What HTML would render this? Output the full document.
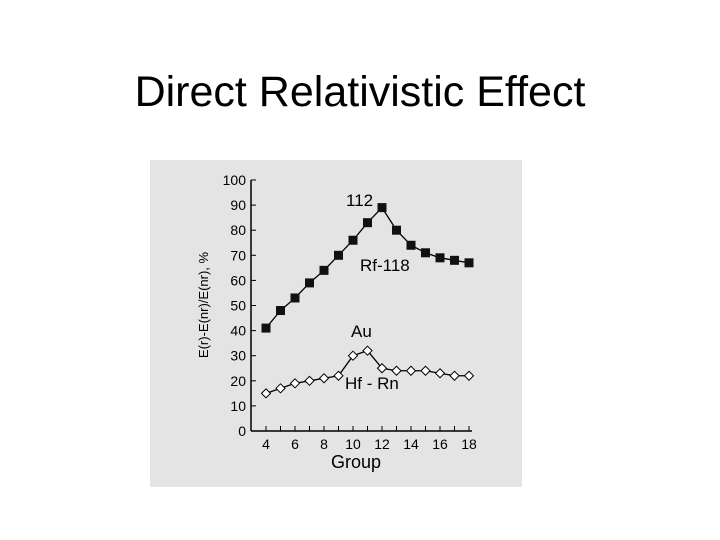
<!DOCTYPE html>
<html><head><meta charset="utf-8"><style>
body{margin:0;width:720px;height:540px;background:#fff;overflow:hidden;font-family:"Liberation Sans",sans-serif}
#title{position:absolute;left:0;width:720px;top:68px;text-align:center;font-size:43px;color:#000}
#scan{position:absolute;left:150px;top:160px;width:372px;height:327px;background:#e4e4e4}
svg{position:absolute;left:0;top:0}
</style></head><body>
<div id="title">Direct Relativistic Effect</div>
<div id="scan"></div>
<svg id="chart" width="720" height="540"></svg>
<script>
const groups=[4,5,6,7,8,9,10,11,12,13,14,15,16,17,18];
const rfValues=[41,48,53,59,64,70,76,83,89,80,74,71,69,68,67];
const hfValues=[15,17,19,20,21,22,30,32,25,24,24,24,23,22,22];
const xTicks=[4,6,8,10,12,14,16,18];
const yTicks=[0,10,20,30,40,50,60,70,80,90,100];
const NS='http://www.w3.org/2000/svg';
const svg=document.getElementById('chart');
const X=g=>266+(g-4)*(469-266)/14;
const Y=v=>431-v*2.51;
function mk(t,a,txt){const e=document.createElementNS(NS,t);for(const k in a)e.setAttribute(k,a[k]);if(txt!=null)e.textContent=txt;svg.appendChild(e);return e;}
let e;
e=mk('line',{x1:251,y1:Y(100),x2:251,y2:431,stroke:'#000','stroke-width':1.5});

e=mk('line',{x1:251,y1:431,x2:472,y2:431,stroke:'#000','stroke-width':1.5});

yTicks.forEach(v=>{
 e=mk('line',{x1:251,y1:Y(v),x2:256,y2:Y(v),stroke:'#000'});
 
 e=mk('text',{x:246,y:Y(v)+5,'text-anchor':'end','font-size':14},v);
 
});
groups.forEach(g=>{
 e=mk('line',{x1:X(g),y1:431,x2:X(g),y2:426,stroke:'#000'});
 
});
xTicks.forEach(g=>{
 e=mk('text',{x:X(g),y:449,'text-anchor':'middle','font-size':14},g);
 
});
e=mk('text',{x:356,y:468,'text-anchor':'middle','font-size':18},'Group');

e=mk('text',{x:0,y:0,'text-anchor':'middle','font-size':13,transform:'translate(208,305) rotate(-90)'},'E(r)-E(nr)/E(nr), %');

function series(vals,name,square){
 e=mk('polyline',{points:vals.map((v,i)=>X(groups[i])+','+Y(v)).join(' '),fill:'none',stroke:'#000','stroke-width':1.3});
 
 vals.forEach((v,i)=>{
  const x=X(groups[i]),y=Y(v);
  if(square) e=mk('rect',{x:x-4.5,y:y-4.5,width:9,height:9,fill:'#111'});
  else e=mk('polygon',{points:`${x},${y-4.5} ${x+4.5},${y} ${x},${y+4.5} ${x-4.5},${y}`,fill:'#fff',stroke:'#000','stroke-width':1});
  
 });
}
series(rfValues,'rf-118',true);
series(hfValues,'hf-rn',false);
[['112',346,206,'label-112'],['Rf-118',360,271,'label-rf-118'],['Au',351,337,'label-au'],['Hf - Rn',345,389,'label-hf-rn']].forEach(l=>{
 e=mk('text',{x:l[1],y:l[2],'font-size':17},l[0]);
 
});
</script>
</body></html>
